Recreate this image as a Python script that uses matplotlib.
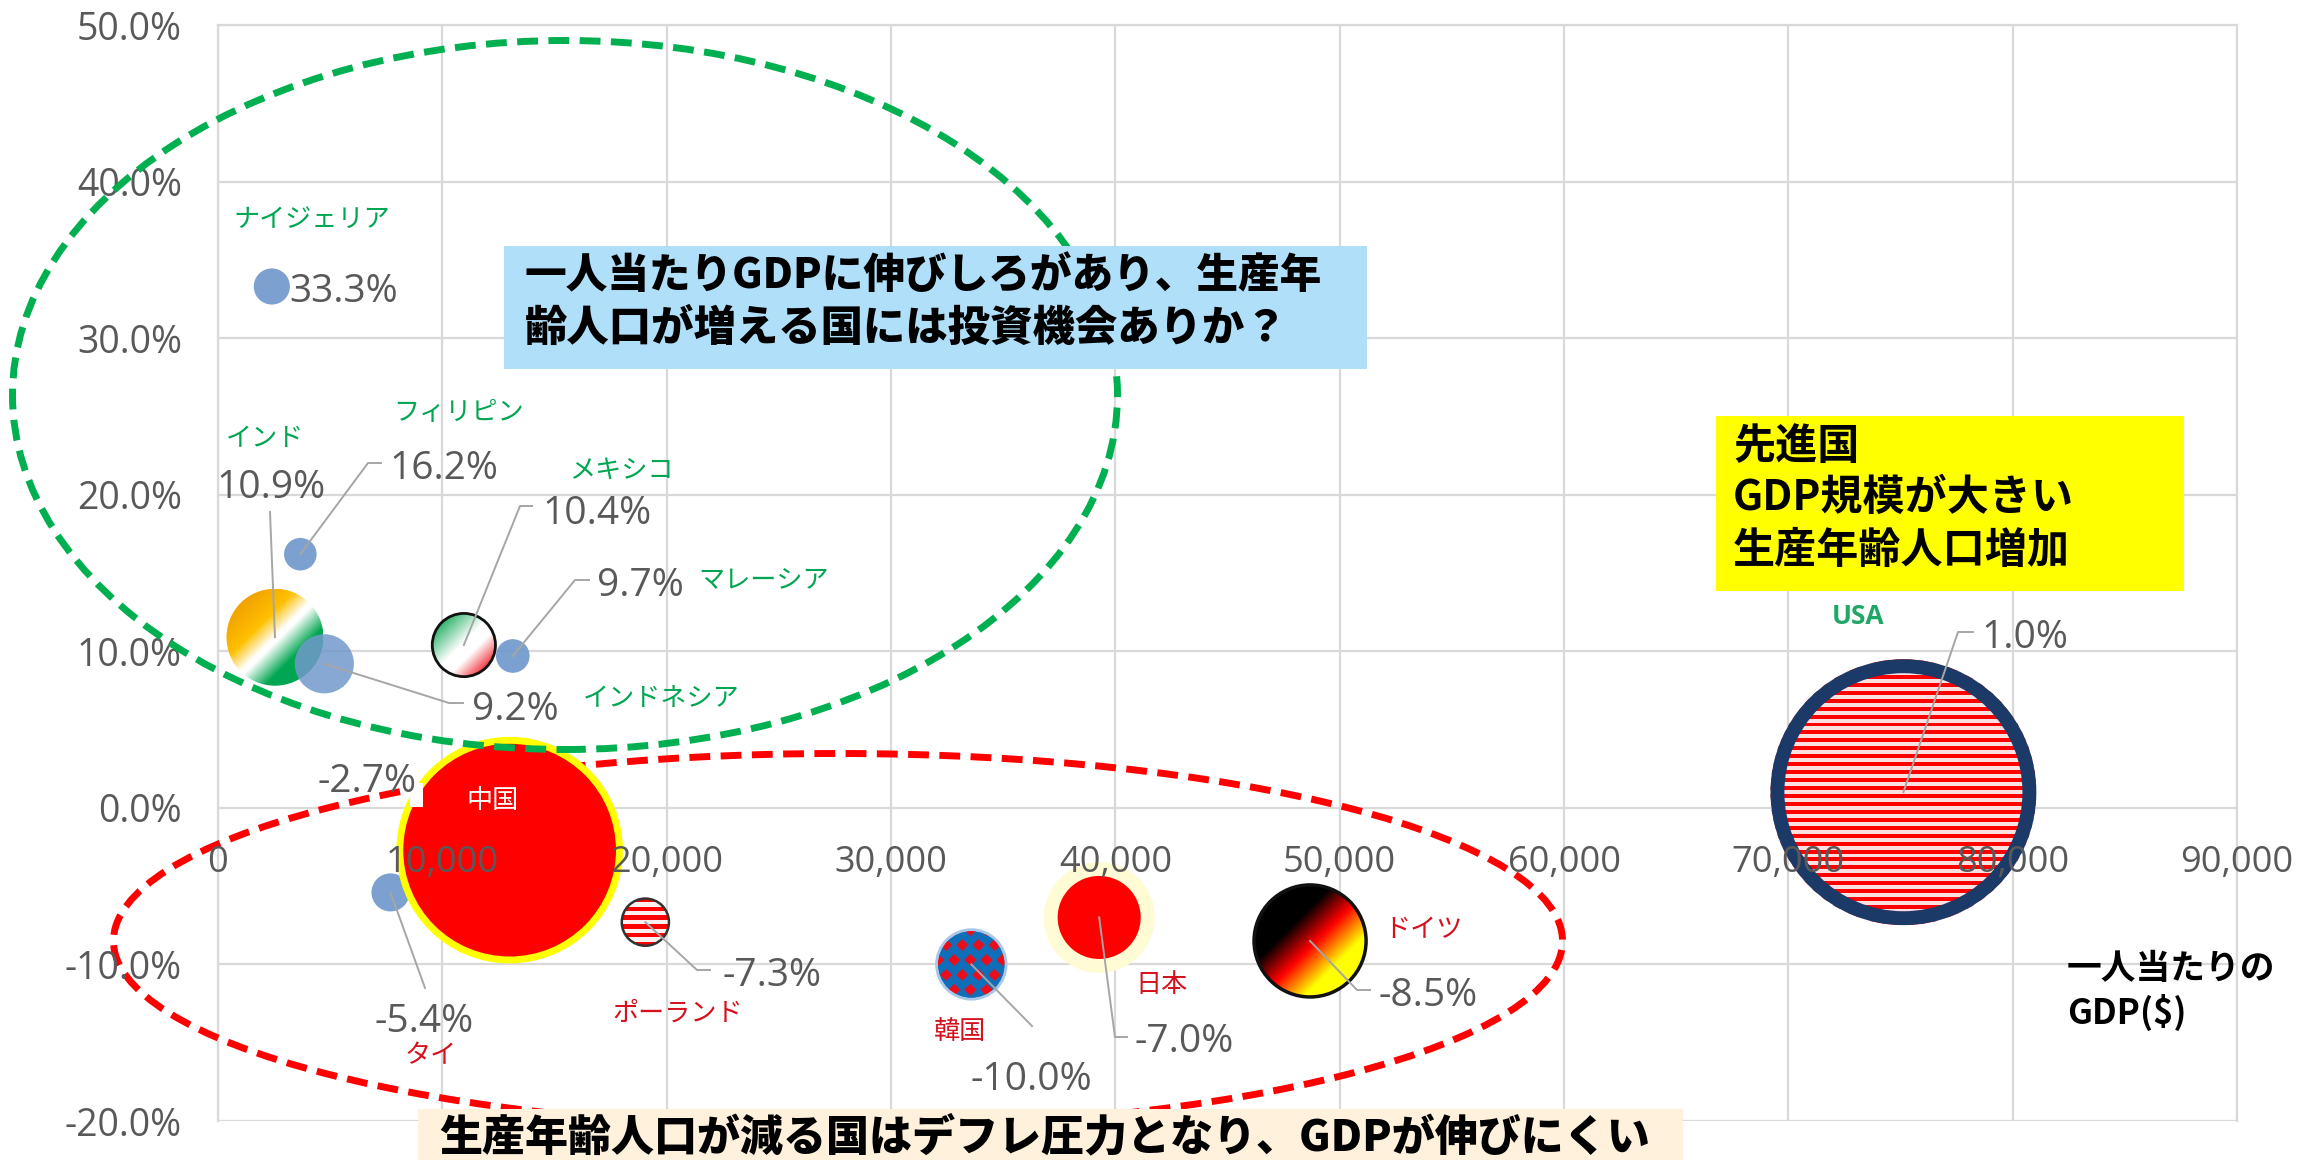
import numpy as np
import matplotlib
matplotlib.use("Agg")
import matplotlib.pyplot as plt
from matplotlib.patches import Ellipse, Rectangle

W, H = 2320, 1160
AX_L, AX_R, AX_T, AX_B = 218, 2237, 25, 1121

countries = ['Nigeria', 'Philippines', 'India', 'Indonesia', 'Mexico', 'Malaysia', 'China',
             'Thailand', 'Poland', 'Korea', 'Japan', 'Germany', 'USA']
gdp_per_capita = [2400, 3670, 2540, 4740, 10960, 13140, 13000, 7690, 19050, 33580, 39280, 48680, 75130]
working_age_change = [33.3, 16.2, 10.9, 9.2, 10.4, 9.7, -2.7, -5.4, -7.3, -10.0, -7.0, -8.5, 1.0]
gdp_size = [0.37, 0.30, 2.66, 0.99, 1.13, 0.32, 14.4, 0.41, 0.63, 1.29, 1.95, 3.55, 20.0]
value_labels = ['33.3%', '16.2%', '10.9%', '9.2%', '10.4%', '9.7%', '-2.7%', '-5.4%', '-7.3%',
                '-10.0%', '-7.0%', '-8.5%', '1.0%']
x_ticks = [0, 10000, 20000, 30000, 40000, 50000, 60000, 70000, 80000, 90000]
y_ticks = [-20, -10, 0, 10, 20, 30, 40, 50]

JP = ['Noto Sans CJK JP', 'DejaVu Sans']
plt.rcParams['font.family'] = JP
GREY = '#595959'
GREEN = '#00A651'
RED = '#D5111E'

fig = plt.figure(figsize=(W / 100, H / 100), dpi=100)
ax = fig.add_axes([AX_L / W, 1 - AX_B / H, (AX_R - AX_L) / W, (AX_B - AX_T) / H])
ax.set_xlim(0, 90000)
ax.set_ylim(-20, 50)
ax.spines['bottom'].set_position(('data', 0))
ax.spines['bottom'].set_visible(False)
ax.set_xticks(x_ticks)
ax.set_xticklabels([f'{v:,}' for v in x_ticks], family='Open Sans', fontsize=26, color=GREY)
ax.set_yticks(y_ticks)
ax.set_yticklabels([f'{v:.1f}%' for v in y_ticks], family='Open Sans', fontsize=27, color=GREY)
ax.tick_params(axis='x', length=0, pad=27)
ax.tick_params(axis='y', length=0, pad=26)
ax.set_axisbelow(False)
for s in ['top', 'left', 'right']:
    ax.spines[s].set_color('#D9D9D9')
    ax.spines[s].set_linewidth(1.6)
    ax.spines[s].set_zorder(0.5)
ax.vlines(x_ticks, -20, 50, color='#D9D9D9', lw=1.6, zorder=0.5)
ax.hlines(y_ticks, 0, 90000, color='#D9D9D9', lw=1.6, zorder=0.5)

def px_x(p):
    return (p - AX_L) / (AX_R - AX_L) * 90000

def px_y(p):
    return 50 - (p - AX_T) / (AX_B - AX_T) * 70

PX_PER_X = (AX_R - AX_L) / 90000
PX_PER_Y = (AX_B - AX_T) / 70

def radius(size):
    return np.sqrt(size * 884.0)

def disc(i, grow=0, **kw):
    r = radius(gdp_size[i]) + grow
    e = Ellipse((gdp_per_capita[i], working_age_change[i]), 2 * r / PX_PER_X, 2 * r / PX_PER_Y, **kw)
    ax.add_patch(e)
    return e

def fill_image(i, img, zorder=2, interp='bilinear'):
    # picture clipped to the bubble, for the flag fills
    r = radius(gdp_size[i])
    x, y = gdp_per_capita[i], working_age_change[i]
    clip = Ellipse((x, y), 2 * r / PX_PER_X, 2 * r / PX_PER_Y, transform=ax.transData, fc='none', ec='none')
    ax.add_patch(clip)
    im = ax.imshow(img, extent=[x - r / PX_PER_X, x + r / PX_PER_X, y - r / PX_PER_Y, y + r / PX_PER_Y],
                   aspect='auto', zorder=zorder, origin='upper', interpolation=interp)
    im.set_clip_path(clip)

def diagonal(stops, colors, n=200):
    v, u = np.mgrid[0:1:n * 1j, 0:1:n * 1j]
    t = (u + v) / 2
    rgb = [np.interp(t, stops, [matplotlib.colors.to_rgb(c)[k] for c in colors]) for k in range(3)]
    return np.dstack(rgb)

def stripes(rows, light):
    img = np.ones((rows, 4, 3))
    for k in range(rows):
        img[k] = (1, 0, 0) if k % 2 == 0 else matplotlib.colors.to_rgb(light)
    return img

def korea_pattern(n=240):
    v, u = np.mgrid[0:1:n * 1j, 0:1:n * 1j]
    img = np.zeros((n, n, 3))
    img[:] = matplotlib.colors.to_rgb('#0F6FBA')
    a = u * 4.2
    b = v * 2.27
    m1 = np.abs(a - np.round(a)) / 0.38 + np.abs(b - np.round(b)) / 0.2 < 1
    a2, b2 = a + 0.5, b + 0.5
    m2 = np.abs(a2 - np.round(a2)) / 0.38 + np.abs(b2 - np.round(b2)) / 0.2 < 1
    img[m1 | m2] = (0.93, 0.05, 0.1)
    return img

# plain blue bubbles
for i in [0, 1, 3, 5, 7]:
    disc(i, fc='#7199CC', ec='none', alpha=0.92 if i != 3 else 0.85, zorder=2.2 if i == 3 else 2)

# flag-like bubbles
fill_image(2, diagonal([0, 0.2, 0.36, 0.5, 0.53, 0.7, 1],
                       ['#E89400', '#F5A800', '#FFC000', '#FFFFFF', '#FFFFFF', '#00A651', '#00A651']), zorder=2.1)
fill_image(4, diagonal([0, 0.15, 0.48, 0.62, 0.88, 1], ['#2FB36B', '#2FB36B', '#FFFFFF', '#FFFFFF', '#F01E28', '#F01E28']))
disc(4, fc='none', ec='#111111', lw=2, zorder=2.2)
fill_image(8, stripes(11, '#FBEFEF'), interp='nearest')
disc(8, fc='none', ec='#333333', lw=1.8, zorder=2.2)
disc(9, grow=1, fc='none', ec='#A9C8E8', lw=2, zorder=2.2)
fill_image(9, korea_pattern())
fill_image(11, diagonal([0, 0.35, 0.53, 0.72, 1], ['#000000', '#000000', '#FF0000', '#FFFF00', '#FFFF00']))
disc(11, fc='none', ec='#111111', lw=2.5, zorder=2.2)
fill_image(12, stripes(67, '#FCDFDF'), interp='nearest')
disc(12, grow=-7, fc='none', ec='#1B3A68', lw=10, zorder=2.2)
disc(6, grow=-3, fc='#FF0000', ec='#FFFF00', lw=5, zorder=2)
disc(10, grow=14, fc='#FFFBD5', ec='none', zorder=1.9)
disc(10, fc='#FF0000', ec='none', zorder=2)

# dashed ellipses
ax.add_patch(Ellipse((px_x(838), px_y(941)), 1449 / PX_PER_X, 375 / PX_PER_Y, fc='none', ec='#FF0000',
                     lw=5, ls=(0, (3, 1.5)), clip_on=False, zorder=1.8))
ax.add_patch(Ellipse((px_x(565), px_y(395)), 1105 / PX_PER_X, 709 / PX_PER_Y, fc='none', ec='#00B050',
                     lw=5, ls=(0, (3, 1.5)), clip_on=False, zorder=3))

ax.add_patch(Rectangle((px_x(410), px_y(807)), 13 / PX_PER_X, 24 / PX_PER_Y, fc='white', ec='none', zorder=2.3))

# value labels: text left/centre px, text y px, leader px
label_pos = {0: (289, 287, 'left'), 1: (389, 464, 'left'), 2: (271, 483, 'center'), 3: (472, 705, 'left'),
             4: (542, 509, 'left'), 5: (597, 581, 'left'), 6: (318, 778, 'left'), 7: (424, 1018, 'center'),
             8: (723, 972, 'left'), 9: (1031, 1076, 'center'), 10: (1135, 1037, 'left'), 11: (1378, 991, 'left'),
             12: (1981, 634, 'left')}
leaders = {1: [(368, 463), (381, 463)], 2: [(270, 512)], 3: [(449, 703), (463, 703)],
           4: [(520, 506), (532, 506)], 5: [(575, 580), (589, 580)], 7: [(425, 988)],
           8: [(697, 970), (710, 970)], 9: [(1032, 1026)], 10: [(1115, 1037), (1127, 1037)],
           11: [(1357, 990), (1370, 990)], 12: [(1958, 632), (1973, 632)]}
for i, (px, py, ha) in label_pos.items():
    ax.text(px_x(px), px_y(py), value_labels[i], family='Open Sans', fontsize=28, color=GREY, ha=ha,
            va='center_baseline', zorder=3, clip_on=False)
    if i in leaders:
        xs = [gdp_per_capita[i]] + [px_x(p[0]) for p in leaders[i]]
        ys = [working_age_change[i]] + [px_y(p[1]) for p in leaders[i]]
        ax.plot(xs, ys, color='#A6A6A6', lw=1.4, zorder=2.6)

names = [('ナイジェリア', 312, 219, GREEN), ('フィリピン', 459, 412, GREEN), ('インド', 265, 438, GREEN),
         ('メキシコ', 621, 470, GREEN), ('マレーシア', 764, 580, GREEN), ('インドネシア', 661, 699, GREEN),
         ('中国', 493, 800, 'white'), ('タイ', 431, 1056, RED), ('ポーランド', 678, 1013, RED),
         ('韓国', 960, 1031, RED), ('日本', 1162, 985, RED), ('ドイツ', 1423, 929, RED)]
for name, px, py, col in names:
    ax.text(px_x(px), px_y(py), name, fontsize=18.8, color=col, ha='center', va='center', zorder=3)
ax.text(px_x(1858), px_y(616), 'USA', fontsize=19, color='#1FA766', ha='center', va='center', fontweight='bold', zorder=3,
        family='Open Sans')

# call-out boxes
boxes = [(504, 246, 1367, 369, '#B0E0F9'), (1716, 416, 2184, 591, '#FFFF00'), (418, 1109, 1683, 1160, '#FFF1DC')]
for l, t, r, b, col in boxes:
    ax.add_patch(Rectangle((px_x(l), px_y(b)), (r - l) / PX_PER_X, (b - t) / PX_PER_Y, fc=col, ec='none',
                           clip_on=False, zorder=4))
callouts = [('一人当たりGDPに伸びしろがあり、生産年', 525, 276, 30, 900), ('齢人口が増える国には投資機会ありか？', 525, 328, 30.5, 900),
            ('先進国', 1733, 447, 30.3, 'bold'), ('GDP規模が大きい', 1733, 498, 30.3, 'bold'), ('生産年齢人口増加', 1733, 551, 30.3, 'bold'),
            ('生産年齢人口が減る国はデフレ圧力となり、GDPが伸びにくい', 439, 1138, 31, 900),
            ('一人当たりの', 2067, 969, 25, 'bold'), ('GDP($)', 2067, 1012, 25, 'bold')]
for txt, px, py, fs, wt in callouts:
    ax.text(px_x(px), px_y(py), txt, fontsize=fs, fontweight=wt, color='black', ha='left', va='center',
            zorder=5, clip_on=False)

ax.set_xlim(0, 90000)
ax.set_ylim(-20, 50)
fig.savefig('out.png', dpi=100)
